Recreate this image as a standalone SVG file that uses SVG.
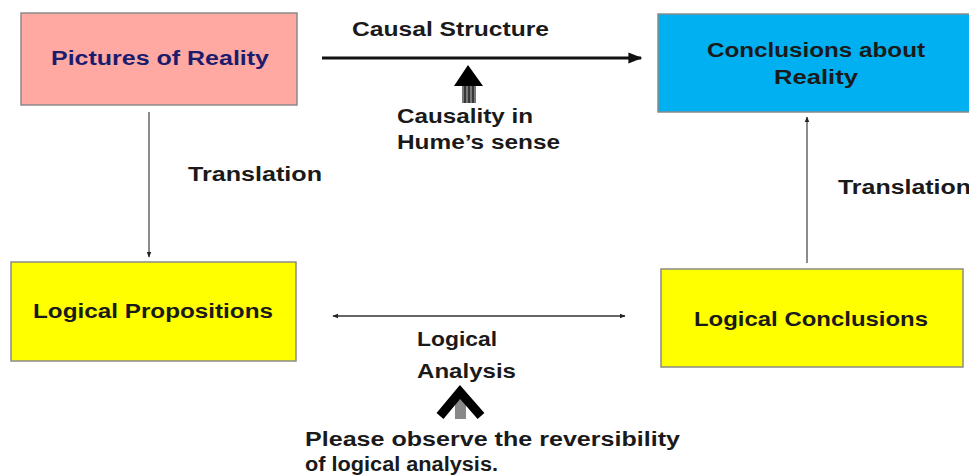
<svg xmlns="http://www.w3.org/2000/svg" width="969" height="475" viewBox="0 0 969 475">
<style>
.box{stroke:#8a8a8a;stroke-width:1.5}
.t{font-family:"Liberation Sans",Arial,sans-serif;font-weight:bold;font-size:20px;fill:#1a1a1a}
.c{text-anchor:middle}
.thin{stroke:#666;stroke-width:1.5;fill:none}
</style>
<defs>
<marker id="ah" viewBox="0 0 10 10" refX="9" refY="5" markerWidth="6" markerHeight="6" orient="auto-start-reverse" markerUnits="userSpaceOnUse">
<path d="M0,1 L10,5 L0,9 z" fill="#222"/>
</marker>
<marker id="ahBig" viewBox="0 0 10 10" refX="9" refY="5" markerWidth="18" markerHeight="14" orient="auto" markerUnits="userSpaceOnUse">
<path d="M0,1 L10,5 L0,9 z" fill="#111"/>
</marker>
</defs>
<rect width="969" height="475" fill="#fff"/>
<g id="connectors">
<line x1="322" y1="58" x2="641" y2="58" stroke="#111" stroke-width="3" marker-end="url(#ahBig)"/>
<line x1="149" y1="112" x2="149" y2="257" class="thin" marker-end="url(#ah)"/>
<line x1="807" y1="263" x2="807" y2="117" class="thin" marker-end="url(#ah)"/>
<line x1="333" y1="316" x2="625" y2="316" stroke="#333" stroke-width="1.5" marker-start="url(#ah)" marker-end="url(#ah)"/>
</g>
<g id="hume-arrow">
<rect x="462" y="85" width="14" height="18" fill="#777"/>
<line x1="465" y1="85" x2="465" y2="103" stroke="#222" stroke-width="1.5"/>
<line x1="469" y1="85" x2="469" y2="103" stroke="#222" stroke-width="1.5"/>
<line x1="473" y1="85" x2="473" y2="103" stroke="#222" stroke-width="1.5"/>
<polygon points="468,65 454,86 483,86" fill="#000"/>
</g>
<g id="reversibility-arrow">
<rect x="455" y="397" width="11" height="22" fill="#888"/>
<polyline points="440,416 460,392 481,416" fill="none" stroke="#000" stroke-width="9" stroke-linejoin="miter"/>
</g>
<g id="pictures">
<rect class="box" x="21" y="13" width="276" height="92" fill="#FFA9A2"/>
<text class="t c" x="160" y="65" style="fill:#1c1c6e" textLength="218" lengthAdjust="spacingAndGlyphs">Pictures of Reality</text>
</g>
<g id="conclusions-reality">
<rect class="box" x="658" y="14" width="320" height="98" fill="#00B0F0" stroke="#2a6a8a"/>
<text class="t c" x="816" y="57" textLength="218" lengthAdjust="spacingAndGlyphs">Conclusions about</text>
<text class="t c" x="816" y="84" textLength="84" lengthAdjust="spacingAndGlyphs">Reality</text>
</g>
<g id="propositions">
<rect class="box" x="11" y="262" width="285" height="99" fill="#FFFF00"/>
<text class="t c" x="153" y="318" textLength="240" lengthAdjust="spacingAndGlyphs">Logical Propositions</text>
</g>
<g id="logical-conclusions">
<rect class="box" x="661" y="269" width="302" height="98" fill="#FFFF00"/>
<text class="t c" x="811" y="326" textLength="234" lengthAdjust="spacingAndGlyphs">Logical Conclusions</text>
</g>
<g id="labels">
<text class="t" x="352" y="36" textLength="197" lengthAdjust="spacingAndGlyphs">Causal Structure</text>
<text class="t" x="397" y="123" textLength="136" lengthAdjust="spacingAndGlyphs">Causality in</text>
<text class="t" x="397" y="149" textLength="163" lengthAdjust="spacingAndGlyphs">Hume’s sense</text>
<text class="t" x="188" y="181" textLength="134" lengthAdjust="spacingAndGlyphs">Translation</text>
<text class="t" x="838" y="194" textLength="133" lengthAdjust="spacingAndGlyphs">Translation</text>
<text class="t" x="417" y="346" textLength="80" lengthAdjust="spacingAndGlyphs">Logical</text>
<text class="t" x="417" y="378" textLength="99" lengthAdjust="spacingAndGlyphs">Analysis</text>
<text class="t" x="305" y="446" textLength="375" lengthAdjust="spacingAndGlyphs">Please observe the reversibility</text>
<text class="t" x="305" y="471" textLength="193" lengthAdjust="spacingAndGlyphs">of logical analysis.</text>
</g>
</svg>
